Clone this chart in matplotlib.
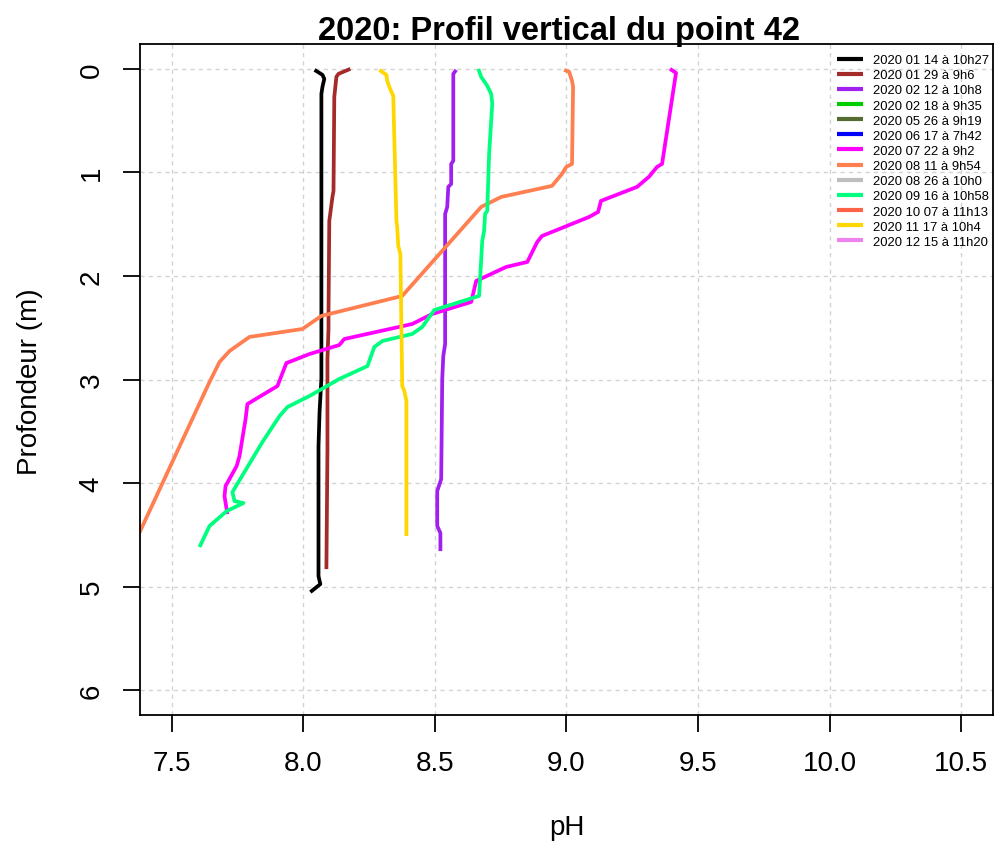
import matplotlib
matplotlib.use("Agg")
import matplotlib.pyplot as plt

plt.rcParams['font.family'] = ['Liberation Sans', 'DejaVu Sans']

# dates des campagnes (légende)
dates = ['2020 01 14 à 10h27', '2020 01 29 à 9h6', '2020 02 12 à 10h8',
         '2020 02 18 à 9h35', '2020 05 26 à 9h19', '2020 06 17 à 7h42',
         '2020 07 22 à 9h2', '2020 08 11 à 9h54', '2020 08 26 à 10h0',
         '2020 09 16 à 10h58', '2020 10 07 à 11h13', '2020 11 17 à 10h4',
         '2020 12 15 à 11h20']
couleurs = ['#000000', '#A52A2A', '#A020F0', '#00CD00', '#556B2F', '#0000FF',
            '#FF00FF', '#FF7F50', '#BEBEBE', '#00FF7F', '#FF6347', '#FFD700',
            '#EE82EE']

# profils (profondeur en m, pH)
prof_0114 = [0.01, 0.058, 0.097, 0.174, 0.242, 1.256, 2.995, 3.314, 3.643, 4.899, 4.976, 5.053]
ph_0114 = [8.043, 8.073, 8.080, 8.073, 8.069, 8.069, 8.069, 8.062, 8.058, 8.058, 8.065, 8.027]

prof_0129 = [0.0, 0.048, 0.077, 0.271, 1.179, 1.237, 1.469, 2.367, 2.512, 2.802, 3.671, 4.831]
ph_0129 = [8.179, 8.134, 8.126, 8.118, 8.115, 8.111, 8.099, 8.096, 8.096, 8.092, 8.092, 8.088]

prof_0212 = [0.01, 0.048, 0.889, 0.918, 1.111, 1.14, 1.333, 1.401, 2.657, 2.773, 2.995,
             3.961, 4.077, 4.415, 4.483, 4.657]
ph_0212 = [8.581, 8.570, 8.570, 8.562, 8.562, 8.551, 8.547, 8.539, 8.539, 8.532, 8.528,
           8.524, 8.509, 8.509, 8.521, 8.521]

prof_0722 = [0.0, 0.039, 0.918, 0.947, 1.043, 1.14, 1.275, 1.382, 1.43, 1.614, 1.671,
             1.865, 1.913, 2.048, 2.251, 2.367, 2.464, 2.609, 2.667, 2.754, 2.841,
             3.063, 3.121, 3.237, 3.382, 3.739, 3.836, 4.029, 4.126, 4.3]
ph_0722 = [9.393, 9.416, 9.363, 9.344, 9.313, 9.268, 9.131, 9.120, 9.086, 8.907, 8.889,
           8.851, 8.771, 8.657, 8.638, 8.490, 8.414, 8.156, 8.137, 8.024, 7.936,
           7.902, 7.864, 7.788, 7.781, 7.758, 7.747, 7.705, 7.701, 7.712]

prof_0811 = [0.01, 0.029, 0.116, 0.174, 0.918, 0.947, 1.014, 1.13, 1.237, 1.333, 2.193,
             2.386, 2.512, 2.589, 2.725, 2.831, 3.024, 4.473, 4.56]
ph_0811 = [8.991, 9.010, 9.021, 9.025, 9.021, 8.999, 8.983, 8.945, 8.752, 8.676, 8.376,
           8.069, 7.997, 7.796, 7.720, 7.682, 7.644, 7.379, 7.36]

prof_0916 = [0.0, 0.077, 0.164, 0.242, 0.338, 0.502, 0.821, 1.372, 1.401, 1.565, 1.662,
             2.193, 2.222, 2.329, 2.396, 2.493, 2.56, 2.628, 2.686, 2.87, 2.995, 3.159,
             3.266, 3.353, 3.604, 4.087, 4.174, 4.193, 4.271, 4.415, 4.618]
ph_0916 = [8.665, 8.676, 8.699, 8.714, 8.718, 8.714, 8.706, 8.699, 8.691, 8.687, 8.680,
           8.668, 8.631, 8.498, 8.479, 8.452, 8.414, 8.301, 8.270, 8.244, 8.137, 8.024,
           7.940, 7.910, 7.845, 7.731, 7.739, 7.773, 7.709, 7.644, 7.606]

prof_1117 = [0.01, 0.058, 0.116, 0.174, 0.222, 0.261, 1.469, 1.527, 1.71, 1.787, 3.063,
             3.111, 3.208, 4.512]
ph_1117 = [8.289, 8.316, 8.319, 8.327, 8.335, 8.342, 8.354, 8.357, 8.361, 8.369, 8.376,
           8.384, 8.392, 8.392]

profils = [(prof_0114, ph_0114), (prof_0129, ph_0129), (prof_0212, ph_0212),
           ([], []), ([], []), ([], []),
           (prof_0722, ph_0722), (prof_0811, ph_0811), ([], []),
           (prof_0916, ph_0916), ([], []), (prof_1117, ph_1117), ([], [])]

ticks_x = [7.5, 8.0, 8.5, 9.0, 9.5, 10.0, 10.5]
ticks_y = [0, 1, 2, 3, 4, 5, 6]

fig = plt.figure(figsize=(9.95, 8.45), dpi=100)
ax = fig.add_axes([140 / 995, 129 / 845, 853 / 995, 671 / 845])

for (prof, ph), lab, col in zip(profils, dates, couleurs):
    ax.plot(ph, prof, color=col, lw=2.7, label=lab, solid_capstyle='butt')

ax.set_xlim(7.38, 10.62)
ax.set_ylim(6.24, -0.24)
ax.set_xticks(ticks_x)
ax.set_xticklabels(['%.1f' % v for v in ticks_x])
ax.set_yticks(ticks_y)
ax.grid(True, color='#D3D3D3', linestyle=(0, (3, 3)), lw=1)
ax.set_axisbelow(True)

for s in ax.spines.values():
    s.set_linewidth(1.3)
ax.tick_params(axis='both', length=12.5, width=1.3, labelsize=20, pad=13)
ax.tick_params(axis='y', labelrotation=90)
for t in ax.get_yticklabels():
    t.set_va('center')

fig.text(559 / 995, 1 - 40 / 845, '2020: Profil vertical du point 42',
         ha='center', va='baseline', fontsize=23.5, fontweight='bold')
fig.text(567 / 995, 1 - 828 / 845, 'pH', ha='center', va='center', fontsize=20)
fig.text(30 / 995, 1 - 382 / 845, 'Profondeur (m)', ha='center', va='center',
         rotation=90, fontsize=20)

leg = ax.legend(loc='upper left', bbox_to_anchor=(837 / 995, 1 - 55 / 845),
                bbox_transform=fig.transFigure, frameon=False, fontsize=9.4,
                borderpad=0, borderaxespad=0, labelspacing=0.23, handlelength=2.0,
                handletextpad=0.75)
for l in leg.get_lines():
    l.set_linewidth(3)

plt.savefig('out.png', dpi=100)
